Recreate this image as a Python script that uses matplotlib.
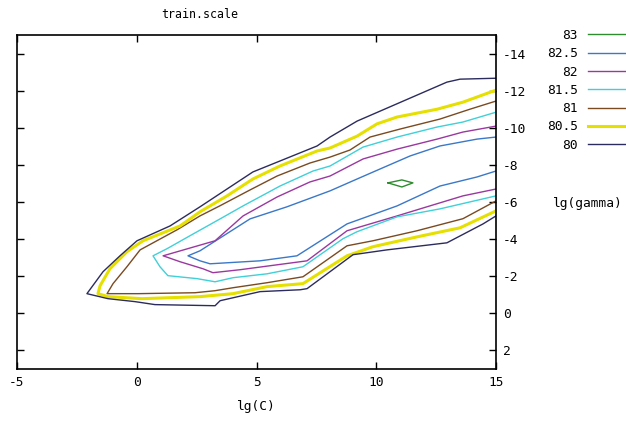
import matplotlib.pyplot as plt

plt.rcParams['font.family'] = 'DejaVu Sans Mono'
plt.rcParams['axes.unicode_minus'] = False

# contour levels (lg(C), lg(gamma)) per level
levels = ['83', '82.5', '82', '81.5', '81', '80.5', '80']
colors = ['#2e8b2e', '#3a78c8', '#9a38a0', '#3fd0d8', '#7a4a20', '#e6e000', '#2b2b5e']
widths = [1.0, 1.0, 1.0, 1.0, 1.0, 2.2, 1.0]

c83 = [10.49, 11.07, 11.53, 11.07, 10.49]
g83 = [-7.03, -7.19, -7.03, -6.81, -7.03]

c825 = [15, 14.21, 12.66, 11.41, 10.16, 9.2, 8.07, 6.27, 4.73, 2.64, 2.14,
        2.64, 3.06, 5.15, 6.69, 8.78, 10.87, 12.66, 14.21, 15]
g825 = [-9.5, -9.39, -9.02, -8.48, -7.78, -7.24, -6.6, -5.74, -5.09, -3.37, -3.1,
        -2.83, -2.67, -2.83, -3.1, -4.82, -5.79, -6.86, -7.35, -7.67]

c82 = [15, 13.62, 12.54, 10.87, 9.45, 8.07, 7.23, 5.86, 4.44, 3.27, 1.1,
       1.81, 2.77, 3.18, 4.31, 6.82, 7.11, 8.78, 10.87, 12.24, 13.62, 15]
g82 = [-10.09, -9.77, -9.39, -8.85, -8.32, -7.4, -7.08, -6.27, -5.25, -3.91, -3.1,
       -2.78, -2.4, -2.19, -2.35, -2.78, -2.83, -4.45, -5.25, -5.79, -6.33, -6.7]

c815 = [15, 13.62, 12.54, 10.87, 9.45, 8.07, 7.36, 5.98, 4.44, 3.48, 2.22, 1.26, 0.68,
        0.97, 1.3, 2.52, 3.27, 4.02, 5.44, 6.94, 8.61, 9.2, 10.87, 12.66, 15]
g815 = [-10.84, -10.31, -10.04, -9.5, -8.96, -7.94, -7.67, -6.86, -5.79, -5.09, -4.18, -3.48, -3.1,
        -2.51, -2.03, -1.87, -1.7, -1.92, -2.13, -2.51, -4.02, -4.4, -5.2, -5.63, -6.33]

c81 = [15, 13.91, 12.66, 10.99, 9.74, 8.9, 8.07, 7.23, 5.86, 4.73, 3.48, 2.64, 1.68, 0.14, -0.41, -0.99, -1.24,
       0.05, 2.43, 3.27, 4.02, 5.44, 6.94, 8.78, 9.86, 11.7, 13.62, 15]
g81 = [-11.44, -11.0, -10.47, -9.93, -9.5, -8.8, -8.42, -8.1, -7.4, -6.65, -5.8, -5.25, -4.5, -3.42, -2.51, -1.6, -1.06,
       -1.06, -1.11, -1.22, -1.38, -1.65, -1.97, -3.64, -3.91, -4.45, -5.1, -6.06]

c805 = [15, 13.62, 12.54, 10.87, 10.03, 9.2, 8.07, 7.53, 5.98, 4.85, 3.77, 2.64, 1.81, 0.26, -0.41, -1.12, -1.53, -1.62,
        -1.2, 0.22, 2.64, 4.02, 5.44, 6.94, 8.78, 9.86, 11.7, 13.5, 15]
g805 = [-12.03, -11.38, -11.0, -10.58, -10.21, -9.55, -8.91, -8.75, -7.94, -7.24, -6.33, -5.47, -4.71, -3.91, -3.32, -2.4, -1.49, -1.06,
        -0.9, -0.79, -0.9, -1.06, -1.44, -1.6, -3.1, -3.59, -4.12, -4.61, -5.52]

c80 = [15, 13.5, 12.95, 9.2, 8.07, 7.53, 5.98, 4.85, 2.64, 1.39, 0.01, -0.7, -1.41, -2.08,
       -1.2, -0.07, 0.76, 3.27, 3.48, 5.15, 6.82, 7.11, 9.03, 10.45, 12.95, 14.46, 15]
g80 = [-12.67, -12.62, -12.46, -10.36, -9.5, -9.02, -8.21, -7.62, -5.74, -4.71, -3.91, -3.1, -2.24, -1.06,
       -0.79, -0.63, -0.47, -0.41, -0.68, -1.17, -1.27, -1.33, -3.16, -3.42, -3.8, -4.82, -5.25]

xs = [c83, c825, c82, c815, c81, c805, c80]
ys = [g83, g825, g82, g815, g81, g805, g80]

xticks = [-5, 0, 5, 10, 15]
yticks = [-14, -12, -10, -8, -6, -4, -2, 0, 2]

fig = plt.figure(figsize=(6.26, 4.24), dpi=100)
ax = fig.add_axes([17/626, 55/424, 479/626, 334/424])

for lab, col, lw, x, y in zip(levels, colors, widths, xs, ys):
    ax.plot(x, y, color=col, lw=lw, label=lab)

ax.set_xlim(-5, 15)
ax.set_ylim(3, -15)
ax.set_xticks(xticks)
ax.set_yticks(yticks)
ax.tick_params(direction='in', length=5, width=1, top=True, right=True,
               left=True, labelleft=False, labelright=True, labelsize=9.3, pad=5)
for s in ax.spines.values():
    s.set_linewidth(1.2)

ax.set_xlabel('lg(C)', fontsize=9.3, labelpad=8)
fig.text(200/626, 1 - 14/424, 'train.scale', ha='center', va='center', fontsize=8.4)
fig.text(588/626, 1 - 203/424, 'lg(gamma)', ha='center', va='center', fontsize=9.3)

ax.legend(loc='upper left', bbox_to_anchor=(547/626, 1 - 29/424), bbox_transform=fig.transFigure,
          markerfirst=False, frameon=False, handlelength=6, handletextpad=0.8,
          labelspacing=0.41, fontsize=9.3, borderaxespad=0, borderpad=0)

plt.savefig('out.png', dpi=100)
